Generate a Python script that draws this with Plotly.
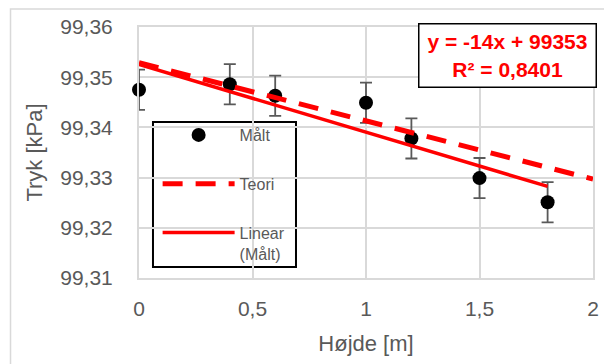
import numpy as np
import plotly.graph_objects as go

# ---- data ----
hojde = [0, 0.4, 0.6, 1.0, 1.2, 1.5, 1.8]          # m
tryk = [99.3475, 99.3486, 99.3463, 99.3449, 99.3378, 99.3299, 99.3251]  # kPa
fejl = [0.004, 0.004, 0.004, 0.004, 0.004, 0.004, 0.004]
teori_x = [0, 2]
teori_y = [99.3529, 99.3297]
x_ticks = [0, 0.5, 1, 1.5, 2]
y_ticks = [99.31, 99.32, 99.33, 99.34, 99.35, 99.36]
eq_text = "y = -14x + 99353<br>R² = 0,8401"

# linear trendline (fit to measured data, spanning measured range)
slope, intercept = np.polyfit(hojde, tryk, 1)
trend_x = [min(hojde), max(hojde)]
trend_y = [slope * v + intercept for v in trend_x]

FONT = "Liberation Sans"
GRAY = "#595959"
GRID = "#d9d9d9"

fig = go.Figure()
fig.add_trace(go.Scatter(
    x=hojde, y=tryk, mode="markers", name="Målt", legendgroup="a",
    marker=dict(color="black", size=14), cliponaxis=False,
    error_y=dict(type="data", array=fejl, visible=True, color=GRAY,
                 thickness=1.8, width=6),
))
fig.add_trace(go.Scatter(
    x=teori_x, y=teori_y, mode="lines", name="Teori", legendgroup="b",
    line=dict(color="#ff0000", width=5, dash="20px,13px"),
))
fig.add_trace(go.Scatter(
    x=trend_x, y=trend_y, mode="lines", name="Linear<br>(Målt)", legendgroup="c",
    line=dict(color="#ff0000", width=3.5),
))

fig.update_layout(
    width=604, height=364,
    margin=dict(l=139, r=11, t=27, b=86),
    paper_bgcolor="white", plot_bgcolor="white",
    separators=", ",
    font=dict(family=FONT, color=GRAY),
    showlegend=True,
    legend=dict(
        x=0.041, y=0.6375, xanchor="left", yanchor="top",
        bgcolor="rgba(0,0,0,0)", borderwidth=0,
        font=dict(family=FONT, size=16, color=GRAY),
        itemwidth=72, tracegroupgap=25, valign="top",
    ),
    xaxis=dict(
        range=[0, 2], tickvals=x_ticks, showgrid=True, gridcolor=GRID, gridwidth=2,
        showline=True, linecolor=GRID, linewidth=2, mirror=True,
        zeroline=False, ticks="", tickfont=dict(size=21, color=GRAY),
        ticklabelstandoff=11,
        title=dict(text="Højde [m]", font=dict(size=22, color=GRAY), standoff=16),
        automargin=False,
    ),
    yaxis=dict(
        range=[99.31, 99.36], tickvals=y_ticks, tickformat=".2f",
        showgrid=True, gridcolor=GRID, gridwidth=2,
        showline=True, linecolor=GRID, linewidth=2, mirror=True,
        zeroline=False, ticks="", tickfont=dict(size=21, color=GRAY),
        ticklabelstandoff=20,
        title=dict(text="Tryk [kPa]", font=dict(size=22, color=GRAY), standoff=12),
        automargin=False,
    ),
    shapes=[
        dict(type="rect", xref="paper", yref="paper",
             x0=-0.283, x1=1.04, y0=-0.37, y1=1.0717,
             line=dict(color=GRID, width=1.5), layer="below"),
        # legend frame
        dict(type="rect", xref="paper", yref="paper",
             x0=0.0308, x1=0.3458, y0=0.0438, y1=0.6215,
             line=dict(color="black", width=2), fillcolor="white", layer="between"),
    ],
    annotations=[dict(
        xref="paper", yref="paper", x=0.8106, y=0.888,
        xanchor="center", yanchor="middle",
        text=eq_text, showarrow=False, align="center",
        font=dict(family=FONT, size=21, color="#ff0000", weight="bold"),
        bordercolor="black", borderwidth=1.5, bgcolor="white",
        width=174, height=60,
    )],
)

fig.write_html("out.html", config={"displayModeBar": False},
               post_script="document.body.style.margin='0px';")
